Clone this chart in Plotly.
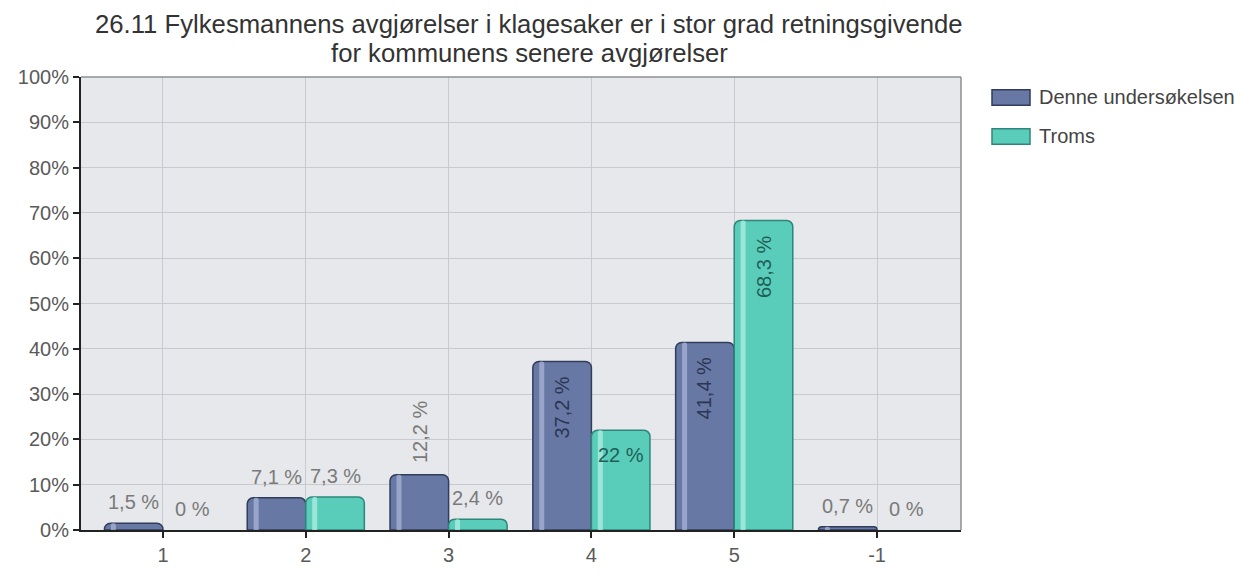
import plotly.graph_objects as go

# Survey result per answer category (share of respondents, %)
categories = ["1", "2", "3", "4", "5", "-1"]
denne = [1.5, 7.1, 12.2, 37.2, 41.4, 0.7]
troms = [0.0, 7.3, 2.4, 22.0, 68.3, 0.0]
series_names = ["Denne undersøkelsen", "Troms"]
y_ticks = list(range(0, 101, 10))
y_tick_labels = [f"{t}%" for t in y_ticks]
title_lines = [
    "26.11 Fylkesmannens avgjørelser i klagesaker er i stor grad retningsgivende",
    "for kommunens senere avgjørelser",
]

FONT = "Liberation Sans, Arial, sans-serif"
W, H = 1254, 578
L, R, T, B = 81, 293, 77, 36
PW, PH = W - L - R, H - T - B


def px_to_paper(px, py):
    return (px - L) / PW, (H - B - py) / PH


pos = list(range(len(categories)))
BAR_W = 0.41

styles = [
    dict(fill="#6878a5", line="#323d5c", shine="#a9b4d4", inner_text="#2b3653"),
    dict(fill="#5acdba", line="#2e867a", shine="#b0efe4", inner_text="#1f5f57"),
]
offsets = [-BAR_W, 0.0]

fig = go.Figure()

for name, vals, st, off in zip(series_names, [denne, troms], styles, offsets):
    fig.add_trace(go.Bar(
        name=name, x=pos, y=vals, width=BAR_W, offset=off, showlegend=False,
        marker=dict(color=st["fill"],
                    line=dict(color=st["line"],
                              width=[1.5 if v > 0 else 0 for v in vals]),
                    cornerradius=6),
        hoverinfo="skip",
    ))
    # glossy highlight stripe along each bar
    fig.add_trace(go.Bar(
        x=pos, y=vals, width=0.035, offset=off + 0.045, showlegend=False,
        marker=dict(color=st["shine"], line=dict(width=0), opacity=0.75,
                    cornerradius=2),
        hoverinfo="skip",
    ))

annotations = []

# value labels
for vals, st, off in zip([denne, troms], styles, offsets):
    for p, v in zip(pos, vals):
        txt = f"{v:g}".replace(".", ",") + " %"
        xc = p + off + BAR_W / 2
        if v >= 25:
            ang, shift, col = -90, -46, st["inner_text"]
        elif v >= 15:
            ang, shift, col = 0, -25, st["inner_text"]
        elif v >= 10:
            ang, shift, col = -90, 43, "#7a7a7a"
        else:
            ang, shift, col = 0, 21, "#7a7a7a"
        annotations.append(dict(
            x=xc, y=v, xref="x", yref="y", text=txt, showarrow=False,
            textangle=ang, yshift=shift, xanchor="center", yanchor="middle",
            font=dict(size=20, color=col, family=FONT),
        ))

# title, two centred lines
for line, py in zip(title_lines, [23, 52]):
    tx, ty = px_to_paper(529, py)
    annotations.append(dict(
        x=tx, y=ty, xref="paper", yref="paper", text=line, showarrow=False,
        xanchor="center", yanchor="middle",
        font=dict(size=25.7, color="#333333", family=FONT),
    ))

shapes = [
    dict(type="line", xref="paper", yref="paper", x0=0, x1=1, y0=1, y1=1,
         line=dict(color="#8f8f8f", width=1.5)),
    dict(type="line", xref="paper", yref="paper", x0=1, x1=1, y0=0, y1=1,
         line=dict(color="#8f8f8f", width=1.5)),
]

# legend: wide swatches with labels
for name, st, py in zip(series_names, styles, [98, 138]):
    x0, y0 = px_to_paper(992, py - 8)
    x1, y1 = px_to_paper(1030, py + 8)
    shapes.append(dict(type="rect", xref="paper", yref="paper",
                       x0=x0, x1=x1, y0=y0, y1=y1,
                       fillcolor=st["fill"], line=dict(color=st["line"], width=1.5)))
    tx, ty = px_to_paper(1037, py)
    annotations.append(dict(
        x=tx, y=ty, xref="paper", yref="paper", text=name, showarrow=False,
        xanchor="left", yanchor="middle",
        font=dict(size=20, color="#444444", family=FONT),
    ))

fig.update_layout(
    width=W, height=H,
    margin=dict(l=L, r=R, t=T, b=B),
    paper_bgcolor="white",
    plot_bgcolor="#e6e8eb",
    barmode="overlay",
    font=dict(family=FONT, size=20, color="#5a5a5a"),
    annotations=annotations,
    shapes=shapes,
    showlegend=False,
)

fig.update_xaxes(
    range=[-0.574, 5.588], tickvals=pos, ticktext=categories,
    showgrid=True, gridcolor="#c8cacf", gridwidth=1,
    showline=True, linecolor="#222222", linewidth=2,
    ticks="outside", ticklen=6, tickcolor="#222222", tickwidth=2,
    zeroline=False, tickfont=dict(size=20, color="#5a5a5a"),
)
fig.update_yaxes(
    range=[0, 100], tickvals=y_ticks, ticktext=y_tick_labels,
    showgrid=True, gridcolor="#c8cacf", gridwidth=1,
    showline=True, linecolor="#222222", linewidth=2,
    ticks="outside", ticklen=6, tickcolor="#222222", tickwidth=2,
    zeroline=False, tickfont=dict(size=20, color="#5a5a5a"),
)

fig.write_html("out.html")
